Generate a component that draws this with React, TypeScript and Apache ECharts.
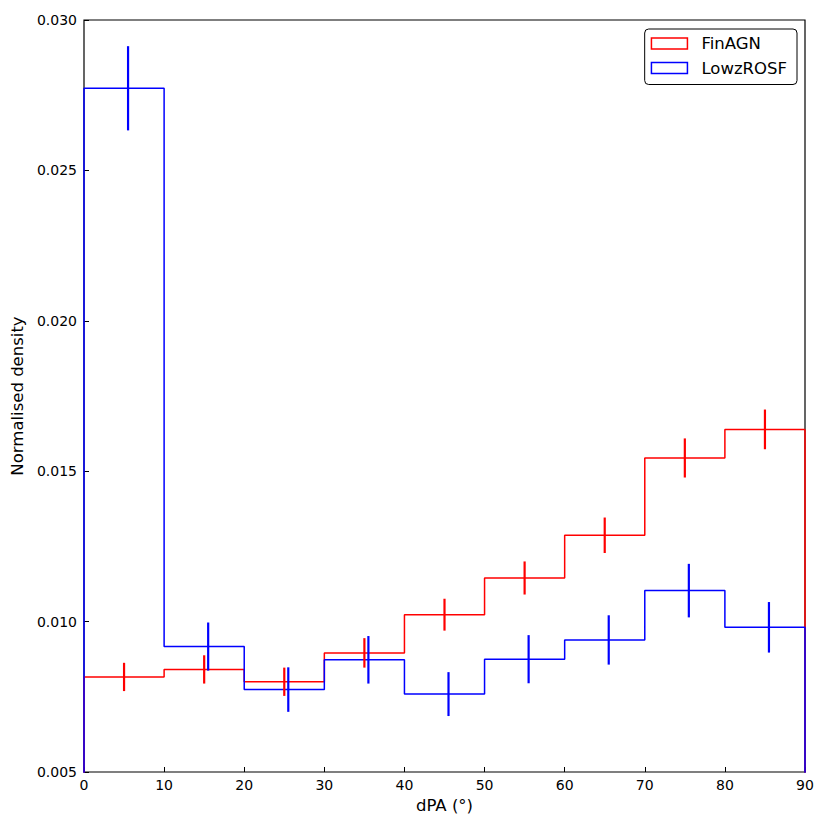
import React, { useEffect, useRef } from "react";
import * as echarts from "echarts";

const binEdges = [0, 10, 20, 30, 40, 50, 60, 70, 80, 90];
const finAGN = [0.00816, 0.00841, 0.008, 0.00896, 0.01023, 0.01145, 0.01287, 0.01544, 0.01639];
const finAGNErr = [0.00047, 0.00047, 0.00047, 0.00049, 0.00053, 0.00055, 0.00059, 0.00065, 0.00066];
const finAGNErrX = [5, 15, 25, 35, 45, 55, 65, 75, 85];
const lowzROSF = [0.02773, 0.00917, 0.00774, 0.00873, 0.00759, 0.00875, 0.00939, 0.01103, 0.00981];
const lowzROSFErr = [0.0014, 0.0008, 0.00074, 0.00079, 0.00073, 0.0008, 0.00082, 0.00089, 0.00084];
const lowzROSFErrX = [5.5, 15.5, 25.5, 35.5, 45.5, 55.5, 65.5, 75.5, 85.5];
const yTicks = ["0.005", "0.010", "0.015", "0.020", "0.025", "0.030"];

const FONT = "DejaVu Sans";

function stepData(values: number[]) {
  const d: number[][] = [[binEdges[0], 0]];
  values.forEach((v, i) => d.push([binEdges[i], v]));
  d.push([binEdges[binEdges.length - 1], values[values.length - 1]]);
  d.push([binEdges[binEdges.length - 1], 0]);
  return d;
}

function errSeries(name: string, xs: number[], ys: number[], es: number[], color: string) {
  return {
    name,
    type: "custom",
    data: xs.map((x, i) => [x, ys[i], es[i]]),
    clip: true,
    z: 5,
    renderItem: (params: any, api: any) => {
      const x = api.value(0);
      const y = api.value(1);
      const e = api.value(2);
      const top = api.coord([x, y + e]);
      const bot = api.coord([x, y - e]);
      return {
        type: "line",
        shape: { x1: top[0], y1: top[1], x2: bot[0], y2: bot[1] },
        style: { stroke: color, lineWidth: 2.2 },
      };
    },
  };
}

export default function App() {
  const ref = useRef<HTMLDivElement>(null);
  useEffect(() => {
    if (!ref.current) return;
    const chart = echarts.init(ref.current, undefined, { renderer: "svg" });
    chart.setOption({
      animation: false,
      backgroundColor: "#ffffff",
      grid: {
        left: 84,
        right: 25,
        top: 20,
        bottom: 58,
        show: true,
        borderColor: "#000",
        borderWidth: 1.2,
        backgroundColor: "transparent",
      },
      legend: {
        data: [
          { name: "FinAGN", icon: "rect", itemStyle: { color: "#fff", borderColor: "#ff0000", borderWidth: 1.5 } },
          { name: "LowzROSF", icon: "rect", itemStyle: { color: "#fff", borderColor: "#0000ff", borderWidth: 1.5 } },
        ],
        orient: "vertical",
        right: 33,
        top: 29,
        itemWidth: 36,
        itemHeight: 11,
        itemGap: 7.5,
        padding: [6, 10, 8, 6],
        backgroundColor: "#fff",
        borderColor: "#000",
        borderWidth: 1,
        borderRadius: 4,
        textStyle: { fontFamily: FONT, fontSize: 16.5, color: "#000", padding: [0, 0, 0, 9] },
      },
      xAxis: {
        type: "value",
        min: 0,
        max: 90,
        interval: 10,
        name: "dPA (°)",
        nameLocation: "middle",
        nameGap: 23,
        nameTextStyle: { fontFamily: FONT, fontSize: 16.5, color: "#000" },
        axisLine: { show: false },
        axisTick: { show: true, inside: true, length: 5, lineStyle: { color: "#000" } },
        axisLabel: { fontFamily: FONT, fontSize: 14, color: "#000", margin: 6 },
        splitLine: { show: false },
      },
      yAxis: {
        type: "value",
        min: 0.005,
        max: 0.03,
        interval: 0.005,
        name: "Normalised density",
        nameLocation: "middle",
        nameGap: 52,
        nameTextStyle: { fontFamily: FONT, fontSize: 16.5, color: "#000" },
        axisLine: { show: false },
        axisTick: { show: true, inside: true, length: 5, lineStyle: { color: "#000" } },
        axisLabel: {
          fontFamily: FONT,
          fontSize: 14,
          color: "#000",
          margin: 7,
          formatter: (v: number) => {
            const idx = Math.round(v / 0.005) - 1;
            return yTicks[idx] ?? v.toFixed(3);
          },
        },
        splitLine: { show: false },
      },
      series: [
        {
          name: "FinAGN",
          type: "line",
          step: "end",
          data: stepData(finAGN),
          showSymbol: false,
          symbol: "none",
          lineStyle: { color: "#ff0000", width: 1.5 },
          itemStyle: { color: "#ff0000" },
          clip: true,
          z: 3,
        },
        {
          name: "LowzROSF",
          type: "line",
          step: "end",
          data: stepData(lowzROSF),
          showSymbol: false,
          symbol: "none",
          lineStyle: { color: "#0000ff", width: 1.5 },
          itemStyle: { color: "#0000ff" },
          clip: true,
          z: 3,
        },
        errSeries("FinAGN err", finAGNErrX, finAGN, finAGNErr, "#ff0000"),
        errSeries("LowzROSF err", lowzROSFErrX, lowzROSF, lowzROSFErr, "#0000ff"),
      ],
    });
    return () => chart.dispose();
  }, []);
  return (
    <div
      ref={ref}
      style={{ position: "fixed", left: 0, top: 0, width: 830, height: 830 }}
    />
  );
}
